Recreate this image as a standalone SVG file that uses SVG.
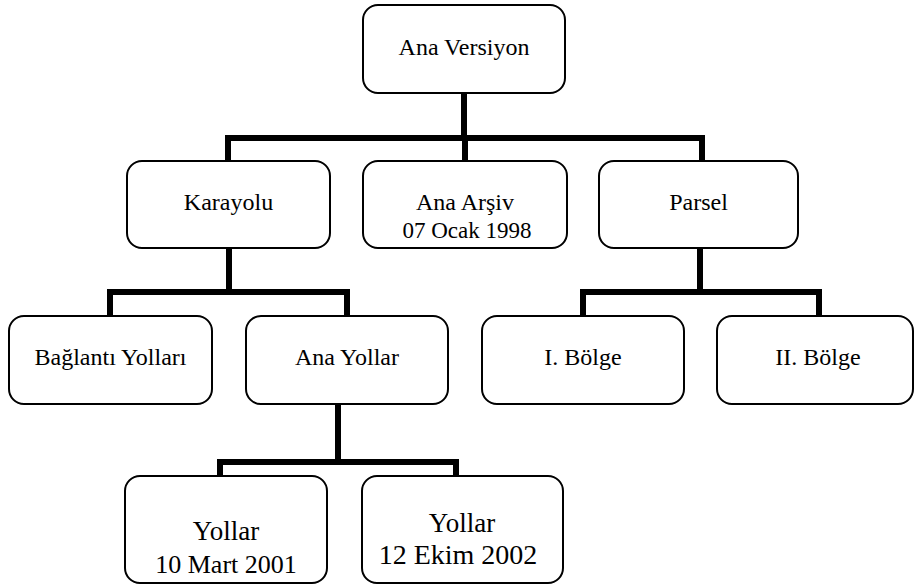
<svg xmlns="http://www.w3.org/2000/svg" width="914" height="588" viewBox="0 0 914 588">
<style>
.box{fill:#fff;stroke:#000;stroke-width:2}
.t{font-family:'Liberation Serif','Times New Roman',serif;font-size:24px;fill:#000;text-anchor:middle}
.b{font-size:27px}
.c{fill:none;stroke:#000;stroke-width:6;stroke-linejoin:miter;stroke-linecap:butt}
</style>
<rect width="914" height="588" fill="#fff"/>
<g id="connectors">
<path class="c" d="M464 93V138M228 161V138H702V161M465 138V161"/>
<path class="c" d="M229 248V292M110 316V292H347V316"/>
<path class="c" d="M700 248V292M583 316V292H819V316"/>
<path class="c" d="M338 404V462M220 476V462H456V476"/>
</g>
<g id="ana-versiyon"><rect class="box" x="363" y="5" width="202" height="88" rx="15"/><text class="t" x="464" y="55">Ana Versiyon</text></g>
<g id="karayolu"><rect class="box" x="127" y="161" width="203" height="87" rx="15"/><text class="t" x="228.5" y="210">Karayolu</text></g>
<g id="ana-arsiv"><rect class="box" x="363" y="161" width="204" height="87" rx="15"/><text class="t" x="465" y="210">Ana Arşiv</text><text class="t" x="467" y="238" style="font-size:23px">07 Ocak 1998</text></g>
<g id="parsel"><rect class="box" x="599" y="161" width="199" height="87" rx="15"/><text class="t" x="698.5" y="210">Parsel</text></g>
<g id="baglanti-yollari"><rect class="box" x="9" y="316" width="203" height="88" rx="15"/><text class="t" x="110.5" y="365">Bağlantı Yolları</text></g>
<g id="ana-yollar"><rect class="box" x="246" y="316" width="202" height="88" rx="15"/><text class="t" x="347" y="365">Ana Yollar</text></g>
<g id="i-bolge"><rect class="box" x="482" y="316" width="202" height="88" rx="15"/><text class="t" x="583" y="365">I. Bölge</text></g>
<g id="ii-bolge"><rect class="box" x="717" y="316" width="196" height="88" rx="15"/><text class="t" x="818" y="365">II. Bölge</text></g>
<g id="yollar-2001"><rect class="box" x="125" y="476" width="202" height="107" rx="15"/><text class="t b" x="226" y="540">Yollar</text><text class="t" x="226" y="573" style="font-size:26px">10 Mart 2001</text></g>
<g id="yollar-2002"><rect class="box" x="362" y="476" width="201" height="107" rx="15"/><text class="t b" x="462" y="532">Yollar</text><text class="t" x="458" y="564" style="font-size:28px">12 Ekim 2002</text></g>
</svg>
